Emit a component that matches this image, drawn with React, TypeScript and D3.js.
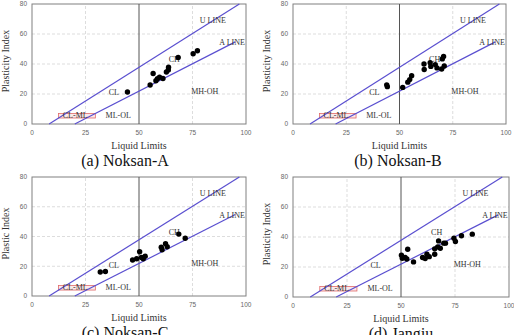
import React from 'react';
import * as d3 from 'd3';

// axis ticks shared by all four plasticity charts
const xTicks = [0, 25, 50, 75, 100];
const yTicks = [0, 20, 40, 60, 80];

// (a) Noksan-A
const noksanALL = [44.6, 55.2, 56.6, 57.9, 58.6, 59.6, 61.2, 62.8, 63.7, 63.8, 68.3, 75.3, 77.3];
const noksanAPI = [21.3, 26.0, 33.7, 28.8, 30.2, 31.2, 30.3, 34.7, 36.0, 37.8, 44.3, 46.8, 48.8];

// (b) Noksan-B
const noksanBLL = [44.0, 44.3, 51.5, 53.9, 54.8, 55.7, 61.5, 61.6, 64.4, 64.7, 66.8, 67.6, 69.8, 70.1, 70.7, 71.0];
const noksanBPI = [26.1, 24.9, 24.4, 27.9, 29.6, 32.2, 40.0, 36.3, 40.8, 38.4, 39.6, 37.4, 36.7, 43.4, 45.0, 38.7];

// (c) Noksan-C
const noksanCLL = [31.9, 34.3, 47.0, 48.9, 50.3, 51.2, 52.0, 52.9, 60.4, 60.8, 62.4, 63.2, 68.6, 71.6];
const noksanCPI = [16.1, 16.5, 24.2, 25.0, 29.7, 25.9, 25.0, 26.7, 32.8, 31.1, 35.2, 33.1, 41.6, 38.8];

// (d) Jangju
const jangjuLL = [50.2, 50.6, 51.9, 52.7, 53.1, 55.8, 60.0, 61.2, 62.0, 63.1, 65.6, 65.6, 67.0, 67.4, 68.2, 69.8, 70.6, 74.5, 75.2, 78.0, 83.0];
const jangjuPI = [27.8, 25.8, 26.3, 25.3, 31.8, 23.4, 26.3, 25.6, 28.5, 26.9, 32.1, 28.5, 33.4, 37.4, 32.5, 35.9, 35.9, 39.2, 37.0, 40.8, 41.9];

// zone labels of the Casagrande chart (in data units)
const zoneNames = ['U LINE', 'A LINE', 'CH', 'CL', 'MH-OH', 'ML-OL', 'CL-ML'];
const zoneLL = [84.5, 93.5, 66.5, 38.2, 80.7, 40.3, 20.2];
const zonePI = [69.2, 54.6, 43.0, 21.0, 22.0, 5.8, 5.8];

const serif = '"Times New Roman", "Liberation Serif", serif';
const sans = 'Arial, "Liberation Sans", sans-serif';
const lineColor = '#5a4fd0';

type PanelProps = {
  left: number;
  top: number;
  width: number;
  height: number;
  title: string;
  titleX: number;
  yLabel: string;
  ll: number[];
  pi: number[];
};

function Panel({ left, top, width, height, title, titleX, yLabel, ll, pi }: PanelProps) {
  const x = d3.scaleLinear().domain([0, 100]).range([left, left + width]);
  const y = d3.scaleLinear().domain([0, 80]).range([top + height, top]);

  const line = d3
    .line<[number, number]>()
    .x((d) => x(d[0]))
    .y((d) => y(d[1]));

  // U line: PI = 0.9 (LL - 8), A line: PI = 0.73 (LL - 20)
  const uLine: [number, number][] = [[8, 0], [8 + 80 / 0.9, 80]];
  const aLine: [number, number][] = [[20, 0], [95, 0.73 * 75]];

  return (
    <g>
      {/* grid */}
      {[25, 75].map((t) => (
        <line key={'gx' + t} x1={x(t)} x2={x(t)} y1={y(0)} y2={y(80)} stroke="#d4d4d4" strokeDasharray="3,2" strokeWidth={0.8} />
      ))}
      {[20, 40, 60].map((t) => (
        <line key={'gy' + t} x1={x(0)} x2={x(100)} y1={y(t)} y2={y(t)} stroke="#d4d4d4" strokeDasharray="3,2" strokeWidth={0.8} />
      ))}
      <rect x={x(0)} y={y(80)} width={width} height={height} fill="none" stroke="#808080" strokeWidth={1} />
      <line x1={x(50)} x2={x(50)} y1={y(0)} y2={y(80)} stroke="#555" strokeWidth={1} />

      {/* CL-ML box */}
      <rect
        x={x(12.4)}
        y={y(7)}
        width={x(29.6) - x(12.4)}
        height={y(4) - y(7)}
        fill="#fbe9e9"
        stroke="#e06a6a"
        strokeWidth={0.8}
      />

      <path d={line(uLine) ?? ''} fill="none" stroke={lineColor} strokeWidth={1.2} />
      <path d={line(aLine) ?? ''} fill="none" stroke={lineColor} strokeWidth={1.2} />

      {/* ticks */}
      {xTicks.map((t) => (
        <text key={'tx' + t} x={x(t)} y={y(0) + 10.5} textAnchor="middle" fontSize={6.5} fill="#666" fontFamily={sans}>
          {t}
        </text>
      ))}
      {yTicks.map((t) => (
        <text key={'ty' + t} x={x(0) - 5} y={y(t) + 2.3} textAnchor="end" fontSize={6.5} fill="#666" fontFamily={sans}>
          {t}
        </text>
      ))}

      {zoneNames.map((n, i) => (
        <text key={n} x={x(zoneLL[i])} y={y(zonePI[i]) + 2.8} textAnchor="middle" fontSize={8} fill="#333" fontFamily={serif}>
          {n}
        </text>
      ))}

      {ll.map((v, i) => (
        <circle key={i} cx={x(v)} cy={y(pi[i])} r={2.7} fill="#000" />
      ))}

      <text x={left + width / 2} y={top + height + 25} textAnchor="middle" fontSize={10} fill="#333" fontFamily={serif}>
        Liquid Limits
      </text>
      <text
        transform={`translate(${left - 23},${top + height / 2 - 3}) rotate(-90)`}
        textAnchor="middle"
        fontSize={10}
        fill="#333"
        fontFamily={serif}
      >
        {yLabel}
      </text>
      <text x={titleX} y={top + height + 42} textAnchor="middle" fontSize={16} fill="#111" fontFamily={serif}>
        {title}
      </text>
    </g>
  );
}

export default function App() {
  return (
    <svg width={514} height={335} style={{ position: 'absolute', left: 0, top: 0, background: '#fff' }}>
      <Panel left={32} top={4} width={214} height={120} title="(a) Noksan-A" titleX={125} yLabel="Plasticity Index" ll={noksanALL} pi={noksanAPI} />
      <Panel left={293} top={4} width={213} height={120} title="(b) Noksan-B" titleX={398} yLabel="Plasticity Index" ll={noksanBLL} pi={noksanBPI} />
      <Panel left={32} top={177} width={214} height={119} title="(c) Noksan-C" titleX={125} yLabel="Plastic Index" ll={noksanCLL} pi={noksanCPI} />
      <Panel left={293} top={177} width={216} height={120} title="(d) Jangju" titleX={401} yLabel="Plasticity Index" ll={jangjuLL} pi={jangjuPI} />
    </svg>
  );
}
